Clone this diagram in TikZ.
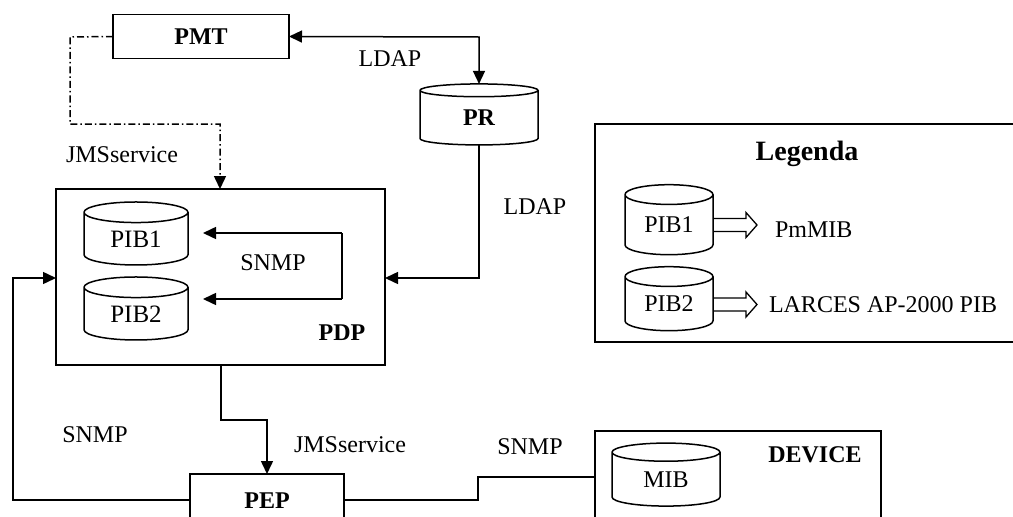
\documentclass[tikz,border=0pt]{standalone}
\usepackage{fontspec}
\setmainfont{Liberation Serif}
\usetikzlibrary{shapes.geometric,arrows.meta}
\begin{document}
\begin{tikzpicture}[x=1pt,y=-1pt,
  every node/.style={font=\fontsize{24}{28}\selectfont, inner sep=0pt, outer sep=0pt},
  box/.style={draw, line width=1.5pt},
  db/.style={cylinder, draw, line width=1.5pt, shape border rotate=90, shape aspect=0.4},
  lab/.style={font=\fontsize{24}{28}\selectfont},
  bold/.style={font=\fontsize{24}{28}\selectfont\bfseries},
  conn/.style={line width=1.5pt},
  tip/.style={-{Triangle[length=13pt,width=12pt]}},
  arr/.style={conn, tip},
  dd/.style={conn, dash pattern=on 7pt off 3pt on 1.5pt off 3pt},
  fat/.style={line width=1.3pt, line join=miter}
]
\clip (0,0) rectangle (1013,517);
% nodes
\node[box, minimum width=176pt, minimum height=44pt, bold] (pmt) at (201,36.5) {PMT};
\node[db, minimum width=118pt, minimum height=61pt, bold] (pr) at (479,118) {PR};
\node[box, minimum width=329pt, minimum height=176pt] (pdp) at (220.5,277) {};
\node[bold] (pdpl) at (342,333) {PDP};
\node[db, minimum width=104pt, minimum height=63pt, font=\fontsize{25}{28}\selectfont] (pib1) at (136,239) {PIB1};
\node[db, minimum width=104pt, minimum height=63pt, font=\fontsize{25}{28}\selectfont] (pib2) at (136,314) {PIB2};
\node[box, minimum width=154pt, minimum height=70pt, anchor=north west] (pep) at (190,474) {};
\node[bold] (pepl) at (267,501) {PEP};
\node[box, minimum width=286pt, minimum height=110pt, anchor=north west] (dev) at (595,431) {};
\node[bold] (devl) at (815,455) {DEVICE};
\node[db, minimum width=108pt, minimum height=63pt] (mib) at (666,479.5) {MIB};
% legend
\node[box, minimum width=430pt, minimum height=218pt, anchor=north west] (leg) at (595,124) {};
\node[font=\fontsize{28}{32}\selectfont\bfseries, anchor=base] (legt) at (807,160) {Legenda};
\node[db, minimum width=88pt, minimum height=70pt] (lpib1) at (669,225) {PIB1};
\node[db, minimum width=88pt, minimum height=64pt] (lpib2) at (669,304) {PIB2};
\node[anchor=west] (pmmib) at (775,229.5) {PmMIB};
\node[anchor=west] (larces) at (769,304.5) {LARCES AP-2000 PIB};
\draw[fat] (lpib1.east |- 0,218.5) -- (746,218.5) -- (746,212.5) -- (757,225) -- (746,237.5) -- (746,231.5) -- (lpib1.east |- 0,231.5);
\draw[fat] (lpib2.east |- 0,298) -- (746,298) -- (746,292) -- (757,304.5) -- (746,317) -- (746,311) -- (lpib2.east |- 0,311);
% coordinates
\coordinate (c1) at (479,37);
\coordinate (c2) at (479,278);
\coordinate (j1) at (70,37);
\coordinate (j2) at (70,124);
\coordinate (j3) at (220,124);
\coordinate (s1) at (342,233);
\coordinate (s2) at (342,299);
\coordinate (l1) at (13,500);
\coordinate (l2) at (13,278);
\coordinate (p1) at (221,420);
\coordinate (p2) at (267,420);
\coordinate (d1) at (478,500);
\coordinate (d2) at (478,477);
% connectors
\draw[conn, {Triangle[length=13pt,width=12pt]}-{Triangle[length=13pt,width=12pt]}] (pmt.east) -- (c1) -- (pr.north);
\draw[arr] (pr.south) -- (c2) -- (pdp.east |- c2);
\draw[dd, tip] (pmt.west) -- (j1) -- (j2) -- (j3) -- (j3 |- pdp.north);
\draw[arr] (s1) -- (203,233);
\draw[conn] (s1) -- (s2);
\draw[arr] (s2) -- (203,299);
\draw[arr] (pep.west |- l1) -- (l1) -- (l2) -- (pdp.west |- l2);
\draw[arr] (pdp.south -| p1) -- (p1) -- (p2) -- (p2 |- pep.north);
\draw[conn] (pep.east |- d1) -- (d1) -- (d2) -- (dev.west |- d2);
% labels
\node[lab] (t1) at (390,59) {LDAP};
\node[lab] (t2) at (535,207) {LDAP};
\node[lab] (t3) at (122,155) {JMSservice};
\node[lab] (t4) at (273,263) {SNMP};
\node[lab] (t5) at (95,435) {SNMP};
\node[lab] (t6) at (350,445) {JMSservice};
\node[lab] (t7) at (530,447) {SNMP};
\end{tikzpicture}
\end{document}
